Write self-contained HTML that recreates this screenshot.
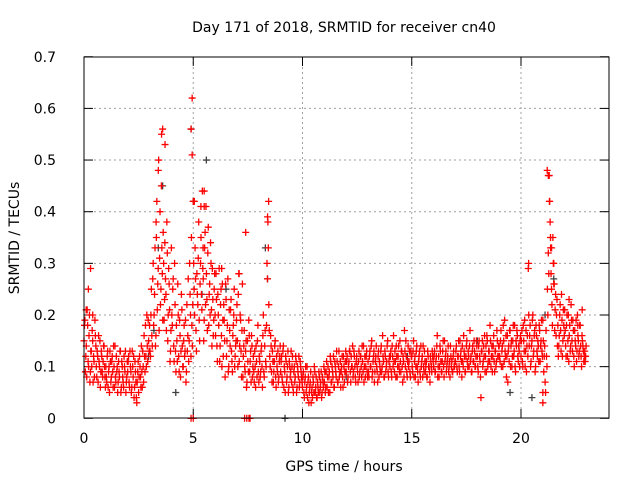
<!DOCTYPE html>
<html><head><meta charset="utf-8"><style>
body{margin:0;background:#fff}
svg{display:block;font-family:"DejaVu Sans","Liberation Sans",sans-serif;font-size:14px}
</style></head><body>
<svg id="chart" width="640" height="480">
<text x="344" y="32" text-anchor="middle">Day 171 of 2018, SRMTID for receiver cn40</text>
<text x="344" y="471" text-anchor="middle">GPS time / hours</text>
<text x="0" y="0" transform="translate(19,238) rotate(-90)" text-anchor="middle">SRMTID / TECUs</text>
<g id="grid"></g>
<g id="ticks"></g>
<g id="grey"></g>
<g id="red"></g>
<rect x="84" y="57" width="525" height="361" fill="none" stroke="#000"/>
</svg>
<script>
const xTicks=[0,5,10,15,20];
const yTicks=[0,0.1,0.2,0.3,0.4,0.5,0.6,0.7];
// red values per hour, 24 samples per hour (2.5-min spacing)
const redByHour=[
[.15,.19,.12,.08,.18,.10,.20,.09,.13,.17,.07,.11,.19,.14,.08,.12,.16,.10,.06,.13,.09,.11,.14,.08],
[.10,.07,.13,.09,.05,.11,.08,.12,.06,.10,.14,.07,.09,.05,.11,.08,.13,.06,.10,.07,.12,.09,.05,.08],
[.09,.12,.06,.10,.05,.13,.08,.04,.11,.07,.03,.09,.05,.12,.08,.14,.06,.10,.16,.09,.12,.20,.11,.15],
[.18,.12,.25,.14,.30,.20,.33,.16,.42,.26,.50,.31,.22,.45,.28,.36,.19,.53,.24,.38,.15,.29,.21,.13],
[.33,.18,.27,.11,.22,.09,.15,.26,.12,.19,.08,.24,.14,.10,.18,.13,.07,.22,.16,.11,.30,.20,.35,.14],
[.42,.25,.33,.17,.28,.22,.38,.15,.30,.24,.44,.27,.19,.36,.41,.23,.32,.18,.26,.34,.21,.29,.16,.25],
[.20,.28,.14,.24,.18,.11,.22,.16,.26,.12,.19,.08,.23,.15,.27,.10,.17,.21,.13,.09,.18,.25,.12,.15],
[.22,.10,.28,.14,.19,.08,.26,.12,.17,.09,.15,.07,.11,.19,.09,.13,.16,.08,.12,.07,.10,.14,.08,.18],
[.07,.11,.09,.14,.06,.20,.08,.17,.10,.30,.38,.22,.12,.16,.09,.13,.07,.11,.15,.06,.10,.13,.08,.12],
[.09,.12,.07,.14,.10,.05,.11,.08,.13,.06,.10,.09,.07,.12,.05,.10,.08,.11,.06,.09,.12,.07,.10,.08],
[.06,.09,.04,.08,.05,.10,.07,.03,.06,.09,.05,.04,.07,.10,.05,.08,.04,.06,.09,.05,.07,.04,.08,.06],
[.07,.05,.09,.06,.10,.08,.05,.11,.07,.09,.12,.06,.10,.08,.11,.07,.13,.09,.06,.10,.08,.12,.07,.11],
[.09,.12,.08,.11,.13,.07,.10,.14,.09,.12,.08,.11,.10,.07,.13,.09,.12,.08,.11,.14,.10,.08,.12,.09],
[.11,.08,.13,.10,.15,.09,.12,.07,.11,.14,.09,.12,.08,.10,.13,.09,.16,.11,.08,.12,.10,.14,.09,.11],
[.10,.13,.08,.12,.16,.09,.11,.14,.08,.12,.10,.15,.09,.13,.07,.11,.17,.10,.12,.08,.14,.11,.09,.13],
[.12,.09,.15,.11,.08,.13,.10,.07,.12,.09,.14,.11,.08,.10,.13,.09,.11,.08,.12,.10,.07,.11,.09,.12],
[.10,.13,.09,.12,.16,.10,.08,.14,.11,.09,.13,.10,.15,.12,.09,.11,.14,.10,.08,.12,.11,.09,.13,.10],
[.11,.14,.09,.12,.10,.15,.13,.08,.11,.16,.12,.09,.14,.11,.13,.10,.17,.12,.09,.14,.11,.13,.10,.15],
[.12,.09,.15,.11,.04,.13,.10,.14,.16,.12,.09,.15,.11,.13,.18,.10,.14,.12,.16,.09,.13,.11,.15,.12],
[.14,.11,.17,.13,.10,.15,.19,.12,.08,.16,.13,.11,.17,.14,.10,.15,.12,.18,.09,.14,.16,.11,.13,.15],
[.12,.17,.10,.15,.19,.13,.09,.16,.29,.14,.18,.11,.15,.20,.13,.17,.10,.16,.12,.14,.18,.11,.15,.13],
[.19,.09,.14,.05,.12,.25,.32,.47,.38,.28,.22,.35,.30,.17,.24,.20,.14,.12,.16,.22,.13,.19,.15,.18],
[.21,.14,.18,.12,.20,.16,.13,.22,.15,.19,.12,.17,.14,.11,.20,.15,.13,.18,.12,.16,.14,.11,.13,.12]
];
// second track, interleaved half a step later
const redByHour2=[
[.18,.09,.14,.21,.11,.16,.07,.13,.10,.15,.12,.08,.16,.10,.13,.07,.11,.15,.09,.12,.08,.14,.10,.06],
[.08,.12,.06,.10,.13,.07,.11,.09,.14,.06,.08,.12,.10,.07,.09,.13,.05,.11,.08,.06,.10,.13,.07,.11],
[.11,.07,.13,.09,.06,.10,.12,.06,.09,.04,.07,.11,.08,.10,.06,.09,.13,.07,.12,.18,.10,.14,.19,.13],
[.13,.20,.16,.27,.18,.24,.14,.35,.21,.29,.17,.40,.25,.33,.19,.30,.23,.27,.17,.32,.20,.26,.11,.17],
[.20,.25,.14,.30,.13,.18,.11,.20,.09,.16,.13,.21,.10,.15,.12,.19,.09,.13,.27,.15,.24,.12,.18,.22],
[.30,.20,.27,.13,.24,.31,.19,.26,.35,.21,.29,.15,.33,.22,.28,.17,.37,.24,.20,.30,.14,.23,.19,.28],
[.16,.23,.11,.20,.29,.14,.25,.10,.19,.22,.15,.26,.12,.18,.09,.21,.14,.23,.11,.16,.20,.10,.14,.19],
[.15,.24,.11,.20,.13,.17,.08,.14,.10,.13,.06,.15,.09,.16,.11,.07,.14,.10,.09,.13,.06,.11,.15,.09],
[.12,.08,.13,.10,.16,.09,.14,.11,.18,.27,.33,.17,.10,.14,.07,.11,.09,.14,.08,.12,.09,.07,.11,.14],
[.11,.08,.13,.06,.09,.12,.07,.10,.05,.11,.08,.13,.10,.06,.09,.07,.12,.05,.10,.08,.06,.11,.09,.07],
[.08,.05,.07,.10,.06,.04,.08,.05,.07,.03,.06,.08,.05,.09,.06,.04,.07,.05,.08,.06,.09,.05,.07,.10],
[.09,.06,.11,.08,.05,.09,.12,.07,.10,.08,.06,.11,.09,.13,.07,.10,.08,.11,.09,.12,.06,.10,.09,.13],
[.11,.07,.10,.13,.09,.12,.10,.08,.13,.10,.07,.12,.09,.11,.08,.12,.10,.14,.09,.07,.12,.10,.13,.08],
[.09,.12,.10,.14,.08,.11,.13,.09,.12,.10,.07,.13,.11,.09,.14,.10,.12,.08,.13,.09,.11,.15,.08,.12],
[.12,.09,.14,.10,.11,.13,.08,.12,.10,.14,.09,.11,.13,.10,.12,.08,.13,.15,.09,.11,.10,.13,.08,.12],
[.10,.13,.08,.12,.10,.14,.09,.11,.13,.08,.10,.12,.14,.09,.11,.10,.08,.13,.10,.09,.12,.10,.13,.11],
[.12,.09,.11,.14,.08,.12,.10,.13,.09,.11,.15,.08,.11,.13,.10,.12,.09,.11,.14,.10,.09,.12,.10,.11],
[.13,.10,.12,.15,.09,.12,.11,.14,.10,.13,.09,.12,.15,.10,.12,.14,.11,.09,.13,.11,.15,.10,.12,.14],
[.10,.14,.12,.08,.13,.15,.11,.12,.09,.14,.16,.10,.13,.11,.15,.12,.09,.14,.11,.13,.10,.17,.12,.14],
[.12,.15,.10,.14,.18,.11,.13,.16,.12,.07,.14,.17,.10,.15,.12,.18,.13,.10,.15,.17,.12,.14,.10,.16],
[.15,.11,.18,.13,.10,.17,.14,.12,.20,.16,.10,.14,.19,.12,.16,.09,.18,.13,.15,.11,.17,.14,.19,.12],
[.15,.12,.07,.17,.10,.20,.28,.42,.33,.25,.18,.30,.26,.21,.16,.23,.18,.14,.20,.17,.24,.12,.21,.16],
[.17,.12,.20,.15,.11,.18,.14,.19,.13,.17,.10,.15,.19,.13,.16,.12,.18,.14,.10,.15,.13,.12,.11,.14]
];
const redExtraT=[0.3,0.2,3.6,3.55,3.4,4.95,4.95,5.05,4.9,5.5,5.5,5.35,7.4,8.45,8.4,21.2,21.25,21.3,21.35,21.4,20.35,21.0,21.0,6.3,7.1,3.3,3.7,5.45,21.5,22.2,22.6,22.8,0.1,0.4,4.9,5.0,7.35,7.45,7.55,7.6];
const redExtraV=[.29,.25,.56,.55,.48,.62,.51,.42,.56,.44,.41,.41,.36,.42,.39,.48,.47,.42,.35,.33,.30,.05,.03,.29,.28,.38,.34,.33,.26,.23,.18,.21,.21,.20,0,0,0,0,0,0];
const greyT=[4.9,3.6,5.6,5.0,3.4,8.3,20.5,21.5,4.2,9.2,5.4,3.2,14.8,18,19.5,16,6.5,8.4,21.1,12,2.95];
const greyV=[.56,.45,.50,.42,.33,.33,.04,.27,.05,0,.24,.17,.12,.15,.05,.10,.25,.27,.20,.08,.12];

const X=t=>84+t*21.85;
const Y=v=>418.3-v*516.5;
const NS='http://www.w3.org/2000/svg';
function mk(tag,attrs,parent){const e=document.createElementNS(NS,tag);for(const k in attrs)e.setAttribute(k,attrs[k]);parent.appendChild(e);return e;}
const grid=document.getElementById('grid'),ticks=document.getElementById('ticks');
xTicks.forEach(t=>{
  const x=X(t);
  if(t>0){const g=mk('line',{x1:x,x2:x,y1:57,y2:418,stroke:'#a0a0a0','stroke-dasharray':'2,3'},grid);
  
  }
  mk('line',{x1:x,x2:x,y1:418,y2:409,stroke:'#000'},ticks);
  mk('line',{x1:x,x2:x,y1:57,y2:66,stroke:'#000'},ticks);
  const l=mk('text',{x:x,y:443,'text-anchor':'middle'},ticks);l.textContent=t;
  
  
});
yTicks.forEach(v=>{
  const y=Y(v);
  if(v>0&&v<0.7){const g=mk('line',{x1:84,x2:609,y1:y,y2:y,stroke:'#a0a0a0','stroke-dasharray':'2,3'},grid);
  
  }
  mk('line',{x1:84,x2:93,y1:y,y2:y,stroke:'#000'},ticks);
  mk('line',{x1:609,x2:600,y1:y,y2:y,stroke:'#000'},ticks);
  const l=mk('text',{x:56,y:y+5,'text-anchor':'end'},ticks);l.textContent=v===0?'0':v.toFixed(1);
  
  
});
function plus(t,v,col,g){
  const x=X(t),y=Y(v);
  const p=mk('path',{d:`M${x-3.5},${y}h7M${x},${y-3.5}v7`,stroke:col,'stroke-width':1.3,fill:'none'},g);
  
  
}
const gg=document.getElementById('grey'),rg=document.getElementById('red');
greyT.forEach((t,i)=>plus(t,greyV[i],'#404040',gg));
redByHour.forEach((arr,h)=>arr.forEach((v,i)=>plus(h+i/arr.length,v,'#ff0000',rg)));
redByHour2.forEach((arr,h)=>arr.forEach((v,i)=>plus(h+(i+0.5)/arr.length,v,'#ff0000',rg)));
redExtraT.forEach((t,i)=>plus(t,redExtraV[i],'#ff0000',rg));
</script>
</body></html>
